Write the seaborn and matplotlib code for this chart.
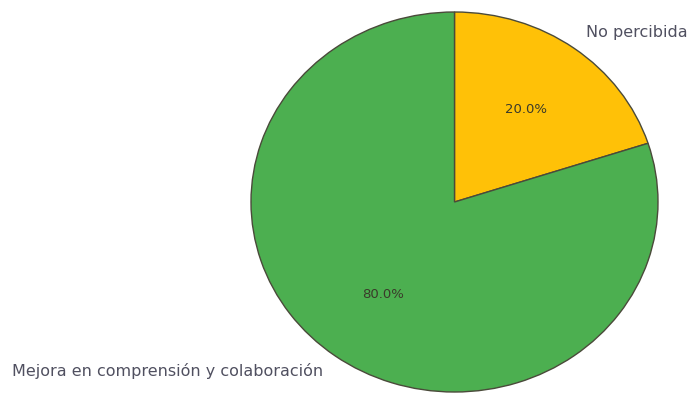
import matplotlib.pyplot as plt
import seaborn as sns

# Data
labels = ['No percibida', 'Mejora en comprensión y colaboración']
values = [20, 80]
colors = ['#FFC107', '#4CAF50']

sns.set_theme(style="white")

fig = plt.figure(figsize=(6.89, 3.96), dpi=100)
W, H = 689, 396
# axes box placed in pixel terms (pie is slightly stretched horizontally)
ax = fig.add_axes([251 / W, 4 / H, 407 / W, 380 / H])

wedges, texts, autotexts = ax.pie(
    values, labels=labels, colors=colors, autopct='%1.1f%%',
    startangle=90, counterclock=False,
    wedgeprops={'edgecolor': '#4a4a3a', 'linewidth': 1},
    textprops={'fontsize': 11.5, 'color': '#505060'},
)
for t in autotexts:
    t.set_fontsize(9.5)
    t.set_color('#3a3a2a')

ax.set_aspect('auto')
ax.set_xlim(-1, 1)
ax.set_ylim(-1, 1)
ax.axis('off')

fig.savefig('out.png', dpi=100)
plt.close(fig)
